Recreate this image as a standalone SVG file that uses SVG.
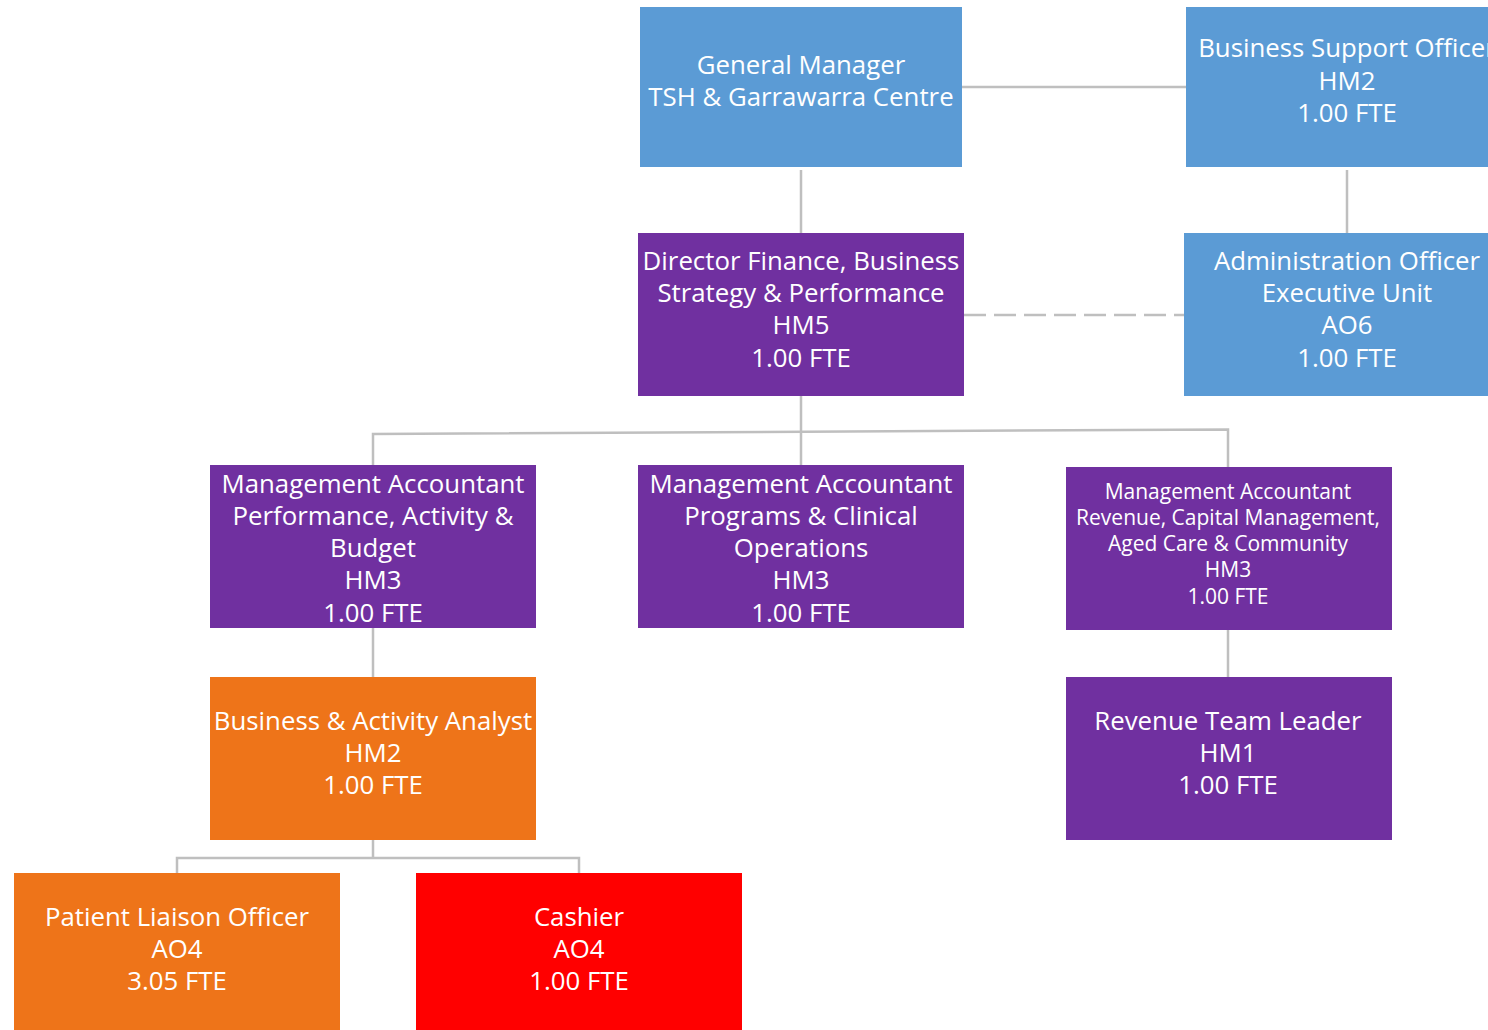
<svg xmlns="http://www.w3.org/2000/svg" width="1488" height="1030" viewBox="0 0 1488 1030">
<style>
.t{font-family:"Open Sans","Liberation Sans",sans-serif;font-size:25.8px;fill:#fff;text-anchor:middle}
.s{font-size:21px}
.c{stroke:#BFBFBF;stroke-width:2.5;fill:none}
.blue{fill:#5B9BD5}.purple{fill:#7030A0}.orange{fill:#EE7419}.red{fill:#FF0000}
</style>
<rect width="1488" height="1030" fill="#fff"/>
<g id="connectors">
<line class="c" x1="962" y1="87" x2="1186" y2="87"/>
<line class="c" x1="801" y1="170" x2="801" y2="233"/>
<line class="c" x1="1347" y1="170" x2="1347" y2="233"/>
<line class="c" x1="964" y1="315" x2="1184" y2="315" stroke-dasharray="22,8"/>
<line class="c" x1="801" y1="396" x2="801" y2="465"/>
<polyline class="c" points="373,465 373,434 1228,429.5 1228,467"/>
<line class="c" x1="373" y1="628" x2="373" y2="677"/>
<line class="c" x1="1228" y1="630" x2="1228" y2="677"/>
<polyline class="c" points="373,840 373,857"/>
<polyline class="c" points="177,873 177,858 579,858 579,873"/>
</g>
<g id="gm"><rect class="blue" x="640" y="7" width="322" height="160"/>
<text class="t"><tspan x="801" y="74">General Manager</tspan><tspan x="801" y="106">TSH &amp; Garrawarra Centre</tspan></text></g>
<g id="bso"><rect class="blue" x="1186" y="7" width="322" height="160"/>
<text class="t"><tspan x="1347" y="57">Business Support Officer</tspan><tspan x="1347" y="90">HM2</tspan><tspan x="1347" y="122">1.00 FTE</tspan></text></g>
<g id="director"><rect class="purple" x="638" y="233" width="326" height="163"/>
<text class="t"><tspan x="801" y="270">Director Finance, Business</tspan><tspan x="801" y="302">Strategy &amp; Performance</tspan><tspan x="801" y="334">HM5</tspan><tspan x="801" y="367">1.00 FTE</tspan></text></g>
<g id="admin"><rect class="blue" x="1184" y="233" width="326" height="163"/>
<text class="t"><tspan x="1347" y="270">Administration Officer</tspan><tspan x="1347" y="302">Executive Unit</tspan><tspan x="1347" y="334">AO6</tspan><tspan x="1347" y="367">1.00 FTE</tspan></text></g>
<g id="ma1"><rect class="purple" x="210" y="465" width="326" height="163"/>
<text class="t"><tspan x="373" y="493">Management Accountant</tspan><tspan x="373" y="525">Performance, Activity &amp;</tspan><tspan x="373" y="557">Budget</tspan><tspan x="373" y="589">HM3</tspan><tspan x="373" y="622">1.00 FTE</tspan></text></g>
<g id="ma2"><rect class="purple" x="638" y="465" width="326" height="163"/>
<text class="t"><tspan x="801" y="493">Management Accountant</tspan><tspan x="801" y="525">Programs &amp; Clinical</tspan><tspan x="801" y="557">Operations</tspan><tspan x="801" y="589">HM3</tspan><tspan x="801" y="622">1.00 FTE</tspan></text></g>
<g id="ma3"><rect class="purple" x="1066" y="467" width="326" height="163"/>
<text class="t s"><tspan x="1228" y="499">Management Accountant</tspan><tspan x="1228" y="525">Revenue, Capital Management,</tspan><tspan x="1228" y="551">Aged Care &amp; Community</tspan><tspan x="1228" y="577">HM3</tspan><tspan x="1228" y="604">1.00 FTE</tspan></text></g>
<g id="baa"><rect class="orange" x="210" y="677" width="326" height="163"/>
<text class="t"><tspan x="373" y="730">Business &amp; Activity Analyst</tspan><tspan x="373" y="762">HM2</tspan><tspan x="373" y="794">1.00 FTE</tspan></text></g>
<g id="rtl"><rect class="purple" x="1066" y="677" width="326" height="163"/>
<text class="t"><tspan x="1228" y="730">Revenue Team Leader</tspan><tspan x="1228" y="762">HM1</tspan><tspan x="1228" y="794">1.00 FTE</tspan></text></g>
<g id="plo"><rect class="orange" x="14" y="873" width="326" height="163"/>
<text class="t"><tspan x="177" y="926">Patient Liaison Officer</tspan><tspan x="177" y="958">AO4</tspan><tspan x="177" y="990">3.05 FTE</tspan></text></g>
<g id="cashier"><rect class="red" x="416" y="873" width="326" height="163"/>
<text class="t"><tspan x="579" y="926">Cashier</tspan><tspan x="579" y="958">AO4</tspan><tspan x="579" y="990">1.00 FTE</tspan></text></g>
</svg>
